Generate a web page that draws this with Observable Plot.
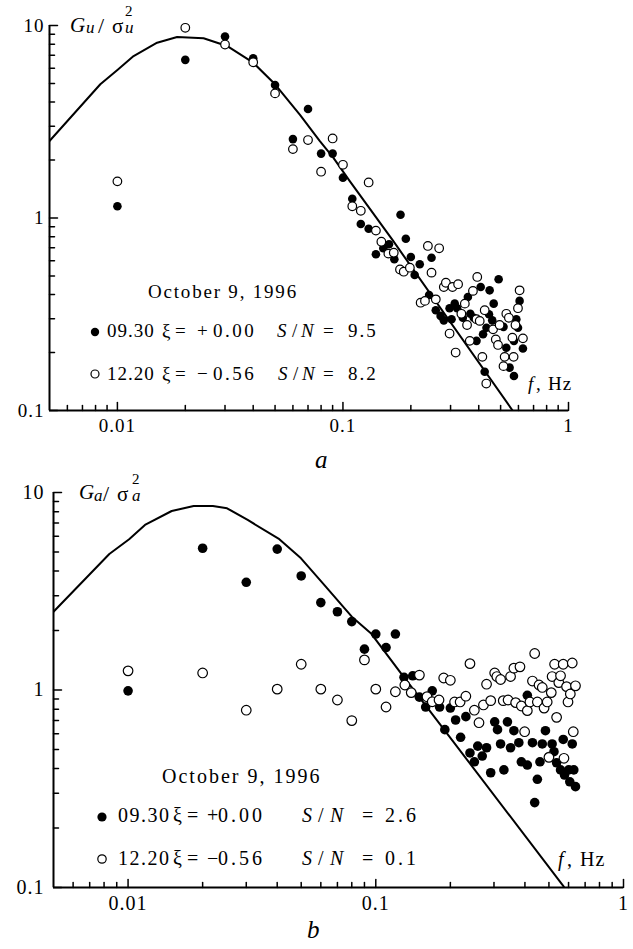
<!DOCTYPE html>
<html>
<head>
<meta charset="utf-8">
<script src="https://cdn.jsdelivr.net/npm/d3@7"></script>
<script src="https://cdn.jsdelivr.net/npm/@observablehq/plot@0.6"></script>
<style>
  html, body { margin: 0; padding: 0; background: #fff; }
  #chart { width: 633px; }
  #chart svg { display: block; }
</style>
</head>
<body>
<div id="chart"></div>
<script>
// ---- Normalized spectra G/σ² versus frequency f (Hz), October 9, 1996 ----

// Panel a: longitudinal component u
const uFilledF = [0.01,0.02,0.03,0.04,0.05,0.06,0.07,0.08,0.09,0.10,0.11,0.12,0.13,0.14,0.151,0.16,0.169,0.18,0.19,0.20,0.208,0.219,0.241,0.247,0.258,0.271,0.28,0.297,0.303,0.313,0.321,0.34,0.358,0.367,0.38,0.391,0.408,0.418,0.425,0.433,0.444,0.447,0.459,0.466,0.49,0.515,0.53,0.548,0.573,0.573,0.587,0.597,0.607,0.628];
const uFilledG = [1.15,6.63,8.77,6.76,4.91,2.57,3.68,2.16,2.16,1.62,1.26,0.93,0.88,0.648,0.696,0.73,0.61,1.04,0.78,0.627,0.506,0.575,0.398,0.622,0.332,0.31,0.294,0.34,0.298,0.359,0.34,0.303,0.389,0.318,0.303,0.23,0.438,0.249,0.159,0.269,0.316,0.421,0.294,0.359,0.481,0.272,0.212,0.167,0.23,0.151,0.298,0.269,0.371,0.21];
const uOpenF = [0.01,0.02,0.03,0.04,0.05,0.06,0.07,0.08,0.09,0.10,0.11,0.12,0.13,0.14,0.148,0.159,0.168,0.179,0.186,0.198,0.221,0.231,0.238,0.247,0.258,0.267,0.28,0.286,0.297,0.306,0.316,0.324,0.335,0.347,0.355,0.365,0.377,0.391,0.394,0.404,0.415,0.425,0.432,0.463,0.476,0.487,0.495,0.515,0.521,0.53,0.544,0.564,0.571,0.582,0.597,0.607,0.628];
const uOpenG = [1.55,9.73,7.96,6.44,4.44,2.28,2.54,1.74,2.59,1.89,1.15,1.09,1.53,0.86,0.753,0.653,0.66,0.54,0.526,0.552,0.363,0.371,0.716,0.52,0.378,0.696,0.438,0.461,0.251,0.438,0.2,0.453,0.318,0.359,0.278,0.23,0.418,0.298,0.494,0.292,0.19,0.332,0.138,0.264,0.234,0.219,0.278,0.17,0.19,0.318,0.303,0.239,0.19,0.278,0.34,0.421,0.237];
const uModelF = [0.005,0.0084,0.01,0.0118,0.015,0.0184,0.0241,0.0306,0.04,0.05,0.0645,0.079,0.0906,0.107,0.167,0.565];
const uModelG = [2.51,4.95,5.87,6.94,8.14,8.72,8.58,7.83,6.41,4.95,3.43,2.51,2.06,1.56,0.76,0.1];

// Panel b: component a
const aFilledF = [0.01,0.02,0.03,0.04,0.05,0.06,0.07,0.08,0.09,0.10,0.11,0.12,0.13,0.141,0.15,0.159,0.169,0.181,0.19,0.20,0.21,0.22,0.231,0.24,0.25,0.258,0.269,0.28,0.291,0.302,0.31,0.319,0.329,0.34,0.35,0.361,0.378,0.387,0.409,0.409,0.429,0.438,0.449,0.46,0.47,0.484,0.501,0.515,0.524,0.537,0.557,0.571,0.578,0.601,0.607,0.621,0.63,0.64];
const aFilledG = [0.99,5.22,3.51,5.17,3.78,2.77,2.49,2.22,1.61,1.92,1.64,1.92,1.16,1.18,0.92,0.82,0.99,0.82,0.63,0.81,0.705,0.576,0.733,0.48,0.433,0.52,0.463,0.51,0.381,0.69,0.63,0.533,0.394,0.69,0.51,0.622,0.541,0.433,0.417,0.94,0.541,0.269,0.353,0.433,0.533,0.622,0.46,0.533,0.487,0.428,0.394,0.562,0.371,0.394,0.343,0.533,0.394,0.324];
const aOpenF = [0.01,0.02,0.03,0.04,0.05,0.06,0.07,0.08,0.09,0.10,0.11,0.12,0.131,0.139,0.15,0.161,0.169,0.18,0.188,0.20,0.208,0.219,0.231,0.24,0.25,0.261,0.272,0.28,0.291,0.302,0.308,0.319,0.327,0.342,0.35,0.361,0.367,0.382,0.387,0.399,0.409,0.419,0.429,0.438,0.449,0.456,0.47,0.478,0.492,0.5,0.511,0.515,0.527,0.537,0.548,0.557,0.571,0.575,0.589,0.597,0.61,0.621,0.627,0.64];
const aOpenG = [1.25,1.22,0.79,1.01,1.35,1.01,0.89,0.70,1.42,1.01,0.82,0.98,1.06,0.97,1.19,0.925,0.872,0.89,1.15,1.12,0.87,0.87,0.93,1.36,0.79,0.683,0.84,1.07,0.883,1.22,1.17,1.13,0.883,0.89,1.17,1.29,0.863,1.31,0.83,0.615,0.786,0.87,1.11,1.53,0.87,1.06,1.03,0.81,0.87,0.456,0.97,1.17,1.35,0.727,1.09,1.18,1.35,0.451,1.04,0.87,0.955,1.37,0.615,1.05];
const aModelF = [0.005,0.0084,0.0101,0.0117,0.015,0.0184,0.022,0.0251,0.0304,0.0408,0.0499,0.0628,0.08,0.0955,0.126,0.162,0.574];
const aModelG = [2.49,4.88,5.8,6.85,8.06,8.54,8.54,8.32,7.26,5.8,4.64,3.34,2.35,1.94,1.22,0.81,0.101];

// Axis ticks (log axes)
const xMajor = [0.01, 0.1, 1];
const xMinor = [0.006,0.007,0.008,0.009,0.02,0.03,0.04,0.05,0.06,0.07,0.08,0.09,0.2,0.3,0.4,0.5,0.6,0.7,0.8,0.9];
const yMajor = [0.1, 1, 10];
const yMinor = [0.2,0.3,0.4,0.5,0.6,0.7,0.8,0.9,2,3,4,5,6,7,8,9];

const SERIF = "'Liberation Serif', 'Times New Roman', Times, serif";
const zip = (F, G) => F.map((f, i) => ({f, g: G[i]}));

// a plain straight tick, used as a vector shape
const tickShape = {draw(ctx, l) { ctx.moveTo(0, 0); ctx.lineTo(0, -l); }};

function spectrumPanel({height, margin, model, filled, open, r, fontSize, yPad}) {
  const [mt, mr, mb, ml] = margin;
  return Plot.plot({
    width: 633,
    height,
    marginTop: mt, marginRight: mr, marginBottom: mb, marginLeft: ml,
    x: {type: "log", domain: [0.005, 1], axis: null},
    y: {type: "log", domain: [0.1, 10], axis: null},
    style: {fontFamily: SERIF, fontSize: fontSize + "px", color: "#000", background: "#fff", letterSpacing: "1px", overflow: "visible"},
    marks: [
      // inward ticks
      Plot.vector(xMajor, {x: d => d, frameAnchor: "bottom", length: 8, rotate: 0, anchor: "start", shape: tickShape, strokeWidth: 1.5}),
      Plot.vector(xMinor, {x: d => d, frameAnchor: "bottom", length: 5, rotate: 0, anchor: "start", shape: tickShape, strokeWidth: 1.5}),
      Plot.vector(yMajor, {y: d => d, frameAnchor: "left", length: 8, rotate: 90, anchor: "start", shape: tickShape, strokeWidth: 1.5}),
      Plot.vector(yMinor, {y: d => d, frameAnchor: "left", length: 5, rotate: 90, anchor: "start", shape: tickShape, strokeWidth: 1.5}),
      // tick labels
      Plot.axisX(xMajor, {tickSize: 0, tickPadding: 8, tickFormat: d => String(d), label: null, fontSize}),
      Plot.axisY(yMajor, {tickSize: 0, tickPadding: yPad, tickFormat: d => String(d), label: null, fontSize}),
      // axis lines
      Plot.ruleX([0.005], {strokeWidth: 2}),
      Plot.ruleY([0.1], {strokeWidth: 2}),
      // model spectrum
      Plot.line(model, {x: "f", y: "g", strokeWidth: 2, clip: true}),
      // measured spectra
      Plot.dot(filled, {x: "f", y: "g", r, fill: "#000", stroke: "none"}),
      Plot.dot(open, {x: "f", y: "g", r, fill: "#fff", stroke: "#000", strokeWidth: 1.2})
    ]
  });
}

// rich text made of positioned pieces
function richText(svg, y, size, pieces) {
  const t = svg.append("text").attr("y", y).attr("font-size", size)
    .attr("font-family", SERIF).attr("fill", "#000").attr("text-anchor", "start");
  for (const p of pieces) {
    const s = t.append("tspan").attr("x", p.x).text(p.t);
    if (p.it) s.attr("font-style", "italic");
    if (p.size) s.attr("font-size", p.size);
    if (p.dy) s.attr("y", y + p.dy);
    if (p.ls != null) s.attr("letter-spacing", p.ls);
  }
  return t;
}

function legendDot(svg, cx, cy, r, filled) {
  svg.append("circle").attr("cx", cx).attr("cy", cy).attr("r", r)
    .attr("fill", filled ? "#000" : "#fff").attr("stroke", "#000").attr("stroke-width", filled ? 0 : 1.2);
}

const chart = document.getElementById("chart");

// ---------- panel a ----------
const plotA = spectrumPanel({
  height: 470, margin: [25, 65, 60, 49],
  model: zip(uModelF, uModelG), filled: zip(uFilledF, uFilledG), open: zip(uOpenF, uOpenG),
  r: 4.3, fontSize: 19, yPad: 5
});
chart.appendChild(plotA);
{
  const svg = d3.select(plotA);
  richText(svg, 32, 21, [
    {x: 70, t: "G", it: true},
    {x: 86, t: "u", it: true, size: 17, dy: 1},
    {x: 98, t: "/", size: 22},
    {x: 112, t: "σ"},
    {x: 125, t: "2", size: 15, dy: -16},
    {x: 125, t: "u", it: true, size: 17, dy: 1}
  ]);
  richText(svg, 298, 19, [{x: 148, t: "October 9, 1996", ls: "1.8px"}]);
  legendDot(svg, 95, 332, 4.2, true);
  richText(svg, 337, 19, [
    {x: 107, t: "09.30"}, {x: 162, t: "ξ"}, {x: 175, t: "="}, {x: 197, t: "+"}, {x: 213, t: "0.00", ls: "2.5px"},
    {x: 277, t: "S", it: true}, {x: 292, t: "/"}, {x: 301, t: "N", it: true}, {x: 323, t: "="}, {x: 348, t: "9.5", ls: "2px"}
  ]);
  legendDot(svg, 95, 374, 4.0, false);
  richText(svg, 380, 19, [
    {x: 107, t: "12.20"}, {x: 162, t: "ξ"}, {x: 175, t: "="}, {x: 197, t: "−"}, {x: 213, t: "0.56", ls: "2.5px"},
    {x: 278, t: "S", it: true}, {x: 293, t: "/"}, {x: 302, t: "N", it: true}, {x: 323, t: "="}, {x: 348, t: "8.2", ls: "2px"}
  ]);
  richText(svg, 390, 19, [{x: 528, t: "f", it: true}, {x: 536, t: ",", ls: "0"}, {x: 548, t: "Hz"}]);
  richText(svg, 468, 25, [{x: 315, t: "a", it: true}]);
}

// ---------- panel b ----------
const plotB = spectrumPanel({
  height: 479, margin: [22, 10, 62, 53],
  model: zip(aModelF, aModelG), filled: zip(aFilledF, aFilledG), open: zip(aOpenF, aOpenG),
  r: 4.8, fontSize: 20, yPad: 9
});
chart.appendChild(plotB);
{
  const svg = d3.select(plotB);
  richText(svg, 29, 21, [
    {x: 79, t: "G", it: true},
    {x: 94, t: "a", it: true, size: 17, dy: 2},
    {x: 103, t: "/", size: 22},
    {x: 117, t: "σ"},
    {x: 132, t: "2", size: 15, dy: -15},
    {x: 132, t: "a", it: true, size: 17, dy: 2}
  ]);
  richText(svg, 313, 20, [{x: 162, t: "October 9, 1996", ls: "2px"}]);
  legendDot(svg, 102, 347, 4.6, true);
  richText(svg, 352, 20, [
    {x: 118, t: "09.30", ls: "1.5px"}, {x: 173, t: "ξ"}, {x: 187, t: "="}, {x: 207, t: "+"}, {x: 218, t: "0.00", ls: "3px"},
    {x: 302, t: "S", it: true}, {x: 318, t: "/"}, {x: 330, t: "N", it: true}, {x: 362, t: "="}, {x: 385, t: "2.6", ls: "3px"}
  ]);
  legendDot(svg, 102, 389, 4.2, false);
  richText(svg, 395, 20, [
    {x: 118, t: "12.20", ls: "1.5px"}, {x: 173, t: "ξ"}, {x: 187, t: "="}, {x: 207, t: "−"}, {x: 218, t: "0.56", ls: "3px"},
    {x: 302, t: "S", it: true}, {x: 318, t: "/"}, {x: 330, t: "N", it: true}, {x: 362, t: "="}, {x: 385, t: "0.1", ls: "3px"}
  ]);
  richText(svg, 396, 20, [{x: 558, t: "f", it: true}, {x: 567, t: ",", ls: "0"}, {x: 580, t: "Hz"}]);
  richText(svg, 468, 25, [{x: 307, t: "b", it: true}]);
}
</script>
</body>
</html>
